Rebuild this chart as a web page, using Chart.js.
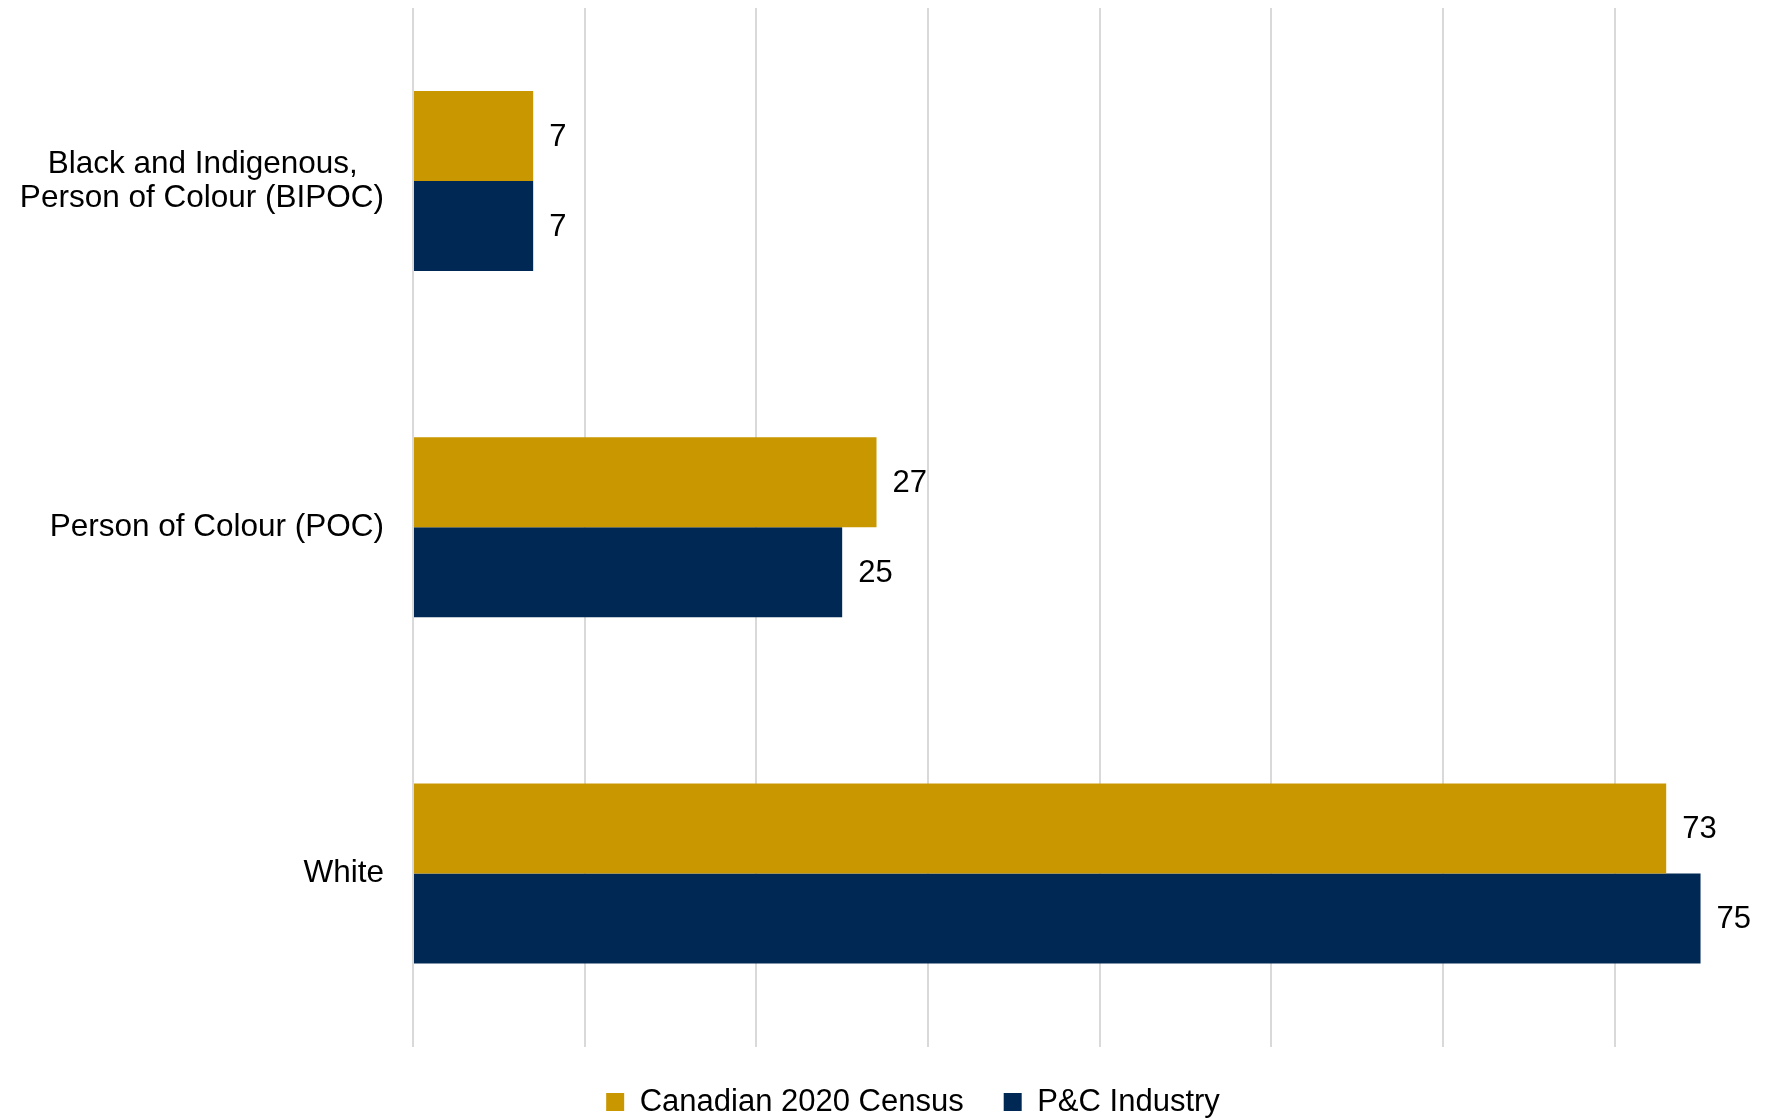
<!DOCTYPE html>
<html>
<head>
<meta charset="utf-8">
<title>Ethnicity: Canadian census vs P&amp;C industry</title>
<script src="https://cdn.jsdelivr.net/npm/chart.js@4.4.1/dist/chart.umd.min.js"></script>
<style>
  html, body { margin: 0; padding: 0; background: #fff; overflow: hidden; }
  /* plot runs a little past the window's right edge, so the 80 line is cut off */
  #wrap { width: 1808px; height: 1118px; position: relative; }
</style>
</head>
<body>
<div id="wrap"><canvas id="ethnicityChart"></canvas></div>
<script>
// categories (multi-line label is an array; trailing spaces centre the short line)
var groups = [
  ["Black and Indigenous,   ", "Person of Colour (BIPOC)"],
  "Person of Colour (POC)",
  "White"
];
var seriesNames = ["Canadian 2020 Census", "P&C Industry"];
var censusValues = [7, 27, 73];
var industryValues = [7, 25, 75];
var seriesColors = ["#C99700", "#002855"];

var FONT = "'Liberation Sans', Arial, Helvetica, sans-serif";

// writes the value just past the end of each bar
var valueLabels = {
  id: 'valueLabels',
  afterDatasetsDraw: function(chart) {
    var ctx = chart.ctx;
    ctx.save();
    ctx.font = "31px " + FONT;
    ctx.fillStyle = "#000";
    ctx.textAlign = "left";
    ctx.textBaseline = "middle";
    chart.data.datasets.forEach(function(ds, i) {
      var meta = chart.getDatasetMeta(i);
      meta.data.forEach(function(bar, j) {
        ctx.fillText(String(ds.data[j]), bar.x + 16, bar.y + 1);
      });
    });
    ctx.restore();
  }
};

var ctx = document.getElementById("ethnicityChart");

var chart = new Chart(ctx, {
  type: 'bar',
  data: {
    labels: groups,
    datasets: [{
      label: seriesNames[0],
      data: censusValues,
      backgroundColor: seriesColors[0],
      borderWidth: 0
    }, {
      label: seriesNames[1],
      data: industryValues,
      backgroundColor: seriesColors[1],
      borderWidth: 0
    }]
  },
  options: {
    indexAxis: 'y',
    responsive: true,
    maintainAspectRatio: false,
    animation: false,
    datasets: {
      bar: { categoryPercentage: 0.52, barPercentage: 1.0 }
    },
    layout: {
      padding: { left: 18, top: 8, right: 0, bottom: -9.5 }
    },
    scales: {
      x: {
        min: 0,
        max: 81.26,
        afterBuildTicks: function(scale) {
          scale.ticks = scale.ticks.filter(function(t) { return t.value % 10 === 0; });
        },
        ticks: { display: false, stepSize: 10 },
        grid: { color: "#d9d9d9", lineWidth: 2, drawTicks: false },
        border: { display: false }
      },
      y: {
        // fixed label column, no extra top/bottom room
        afterFit: function(scale) {
          scale.width = 395;
          scale.paddingTop = 0;
          scale.paddingBottom = 0;
        },
        ticks: {
          color: "#000",
          padding: 29,
          font: { family: FONT, size: 31.5, lineHeight: 1.07 }
        },
        grid: { display: false, drawTicks: false },
        border: { display: false }
      }
    },
    plugins: {
      legend: {
        position: 'bottom',
        labels: {
          color: "#000",
          boxWidth: 18,
          boxHeight: 18,
          padding: 40,
          font: { family: FONT, size: 31 }
        }
      },
      tooltip: { enabled: false }
    }
  },
  plugins: [valueLabels]
});
</script>
</body>
</html>
